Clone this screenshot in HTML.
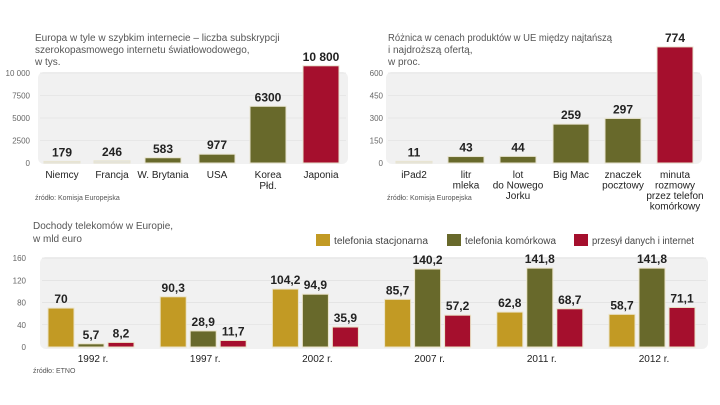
<!DOCTYPE html>
<html><head><meta charset="utf-8"><style>
body{margin:0;background:#fff;width:720px;height:405px;overflow:hidden}
svg{display:block;font-family:"Liberation Sans",sans-serif}
</style></head><body>
<svg id="c" width="720" height="405"></svg>
<script>
const c1Cats=["Niemcy","Francja","W. Brytania","USA","Korea|Płd.","Japonia"];
const c1Vals=[179,246,583,977,6300,10800];
const c1Labels=["179","246","583","977","6300","10 800"];
const c1Ticks=[0,2500,5000,7500,10000];
const c1TickLabels=["0","2500","5000","7500","10 000"];
const c2Cats=["iPad2","litr|mleka","lot|do Nowego|Jorku","Big Mac","znaczek|pocztowy","minuta|rozmowy|przez telefon|komórkowy"];
const c2Vals=[11,43,44,259,297,774];
const c2Ticks=[0,150,300,450,600];
const years=["1992 r.","1997 r.","2002 r.","2007 r.","2011 r.","2012 r."];
const fixedVals=[70,90.3,104.2,85.7,62.8,58.7];
const mobileVals=[5.7,28.9,94.9,140.2,141.8,141.8];
const dataVals=[8.2,11.7,35.9,57.2,68.7,71.1];
const c3Ticks=[0,40,80,120,160];
const seriesNames=["telefonia stacjonarna","telefonia komórkowa","przesył danych i internet"];

const NS="http://www.w3.org/2000/svg",svg=document.getElementById('c');
const Y="#c29a24",G="#68692b",R="#a50f2d",LG="#e4e4de";
function el(t,a,txt,p){const e=document.createElementNS(NS,t);for(const k in a)e.setAttribute(k,a[k]);if(txt!=null)e.textContent=txt;(p||svg).appendChild(e);return e;}
function fmt(v){return String(v).replace('.',',');}

// chart 1
const g1=el('g',{});
["Europa w tyle w szybkim internecie – liczba subskrypcji","szerokopasmowego internetu światłowodowego,","w tys."].forEach((t,i)=>{const e=el('text',{x:35,y:41+i*12,'font-size':10,fill:'#555'},t,g1);});
el('rect',{x:38,y:72,width:310,height:92,rx:6,fill:'#f1f1f1'},null,g1);
const y1=v=>163-v*0.009;
c1Ticks.forEach((t,i)=>{if(t>0)el('line',{x1:40,x2:346,y1:y1(t),y2:y1(t),stroke:'#ddd','stroke-width':0.6},null,g1);const e=el('text',{x:30,y:y1(t)+3,'font-size':8,fill:'#666','text-anchor':'end'},c1TickLabels[i],g1);});
const x1c=[62,112,163,217,268,321];
c1Vals.forEach((v,i)=>{const col=i<2?LG:(i<5?G:R);const top=y1(v),h=Math.max(163-top,1.5);
const b=el('rect',{x:x1c[i]-18,y:top,width:36,height:h,fill:col,stroke:'#e8e4d0','stroke-width':1},null,g1);
const l=el('text',{x:x1c[i],y:top-5,'font-size':12,'font-weight':'bold',fill:'#222','text-anchor':'middle'},c1Labels[i],g1);
c1Cats[i].split('|').forEach((t,j)=>{const e=el('text',{x:x1c[i],y:178+j*11,'font-size':10,fill:'#222','text-anchor':'middle'},t,g1);});});
{const e=el('text',{x:35,y:200,'font-size':7,fill:'#555'},"źródło: Komisja Europejska",g1);}

// chart 2
const g2=el('g',{});
["Różnica w cenach produktów w UE między najtańszą","i najdroższą ofertą,","w proc."].forEach((t,i)=>{const e=el('text',{x:388,y:41+i*12,'font-size':10,fill:'#555'},t,g2);if(i==0){e.setAttribute('textLength','224');e.setAttribute('lengthAdjust','spacingAndGlyphs');}});
el('rect',{x:386,y:72,width:316,height:92,rx:6,fill:'#f1f1f1'},null,g2);
const y2=v=>163-v*0.15;
c2Ticks.forEach(t=>{if(t>0)el('line',{x1:388,x2:700,y1:y2(t),y2:y2(t),stroke:'#ddd','stroke-width':0.6},null,g2);const e=el('text',{x:383,y:y2(t)+3,'font-size':8,fill:'#666','text-anchor':'end'},String(t),g2);});
const x2c=[414,466,518,571,623,675];
c2Vals.forEach((v,i)=>{const col=i<1?LG:(i<5?G:R);const top=y2(v),h=163-top;
const b=el('rect',{x:x2c[i]-18,y:top,width:36,height:h,fill:col,stroke:'#e8e4d0','stroke-width':1},null,g2);
const l=el('text',{x:x2c[i],y:top-5,'font-size':12,'font-weight':'bold',fill:'#222','text-anchor':'middle'},String(v),g2);
c2Cats[i].split('|').forEach((t,j)=>{const e=el('text',{x:x2c[i],y:178+j*10.5,'font-size':10,fill:'#222','text-anchor':'middle'},t,g2);});});
{const e=el('text',{x:387,y:200,'font-size':7,fill:'#555'},"źródło: Komisja Europejska",g2);}

// chart 3
const g3=el('g',{});
["Dochody telekomów w Europie,","w mld euro"].forEach((t,i)=>{const e=el('text',{x:33,y:229+i*13,'font-size':10,fill:'#555'},t,g3);});
const lx=[316,447,574],lw=[94,91,102],cols=[Y,G,R];
seriesNames.forEach((n,i)=>{const lg=el('g',{},null,g3);
el('rect',{x:lx[i],y:234,width:14,height:12,fill:cols[i]},null,lg);el('text',{x:lx[i]+18,y:244,'font-size':10,fill:'#444',textLength:lw[i],lengthAdjust:'spacingAndGlyphs'},n,lg);});
el('rect',{x:40,y:257,width:668,height:92,rx:6,fill:'#f1f1f1'},null,g3);
const y3=v=>347-v*0.556;
c3Ticks.forEach(t=>{if(t>0)el('line',{x1:42,x2:706,y1:y3(t),y2:y3(t),stroke:'#ddd','stroke-width':0.6},null,g3);const e=el('text',{x:26,y:y3(t)+3,'font-size':8,fill:'#666','text-anchor':'end'},String(t),g3);});
const series=[fixedVals,mobileVals,dataVals];
years.forEach((yr,gi)=>{const cx=91+gi*112.2;
series.forEach((s,si)=>{const v=s[gi],bx=cx-43+si*30,top=y3(v);
const b=el('rect',{x:bx,y:top,width:26,height:347-top,fill:cols[si],stroke:'#eae3c8','stroke-width':1},null,g3);
const l=el('text',{x:bx+13,y:top-5,'font-size':12,'font-weight':'bold',fill:'#222','text-anchor':'middle'},fmt(v),g3);});
const e=el('text',{x:cx+2,y:362,'font-size':10,fill:'#222','text-anchor':'middle'},yr,g3);});
{const e=el('text',{x:33,y:373,'font-size':7,fill:'#555'},"źródło: ETNO",g3);}
</script>
</body></html>
